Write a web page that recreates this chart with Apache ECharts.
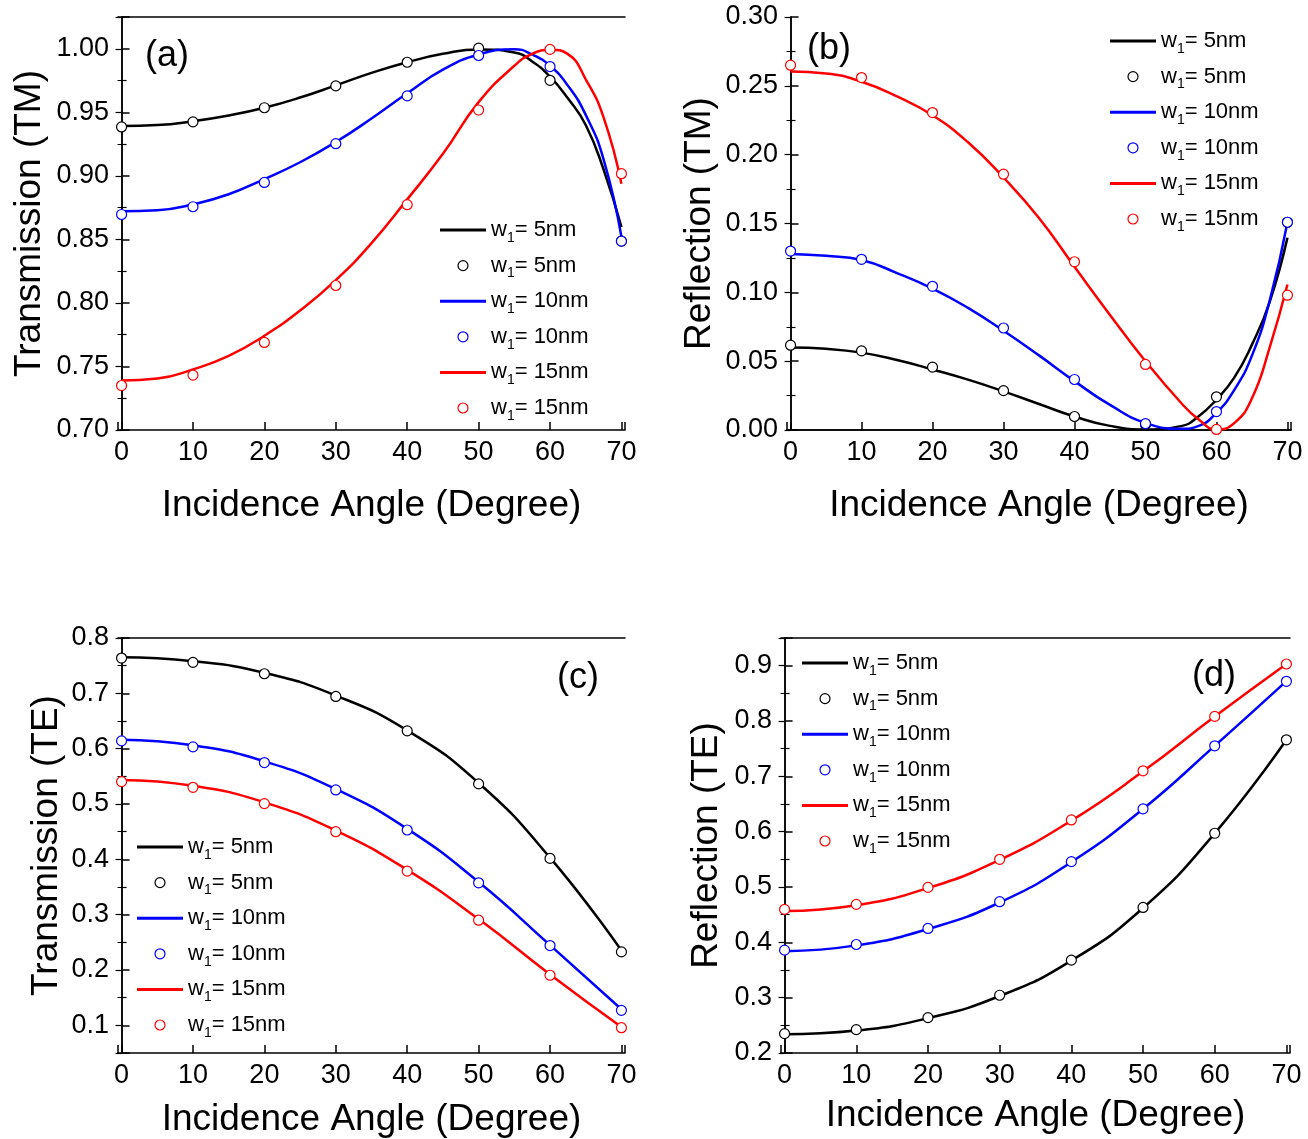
<!DOCTYPE html>
<html>
<head>
<meta charset="utf-8">
<title>Transmission / Reflection vs incidence angle</title>
<script src="https://cdn.jsdelivr.net/npm/echarts@6/dist/echarts.min.js"></script>
<style>
  html, body { margin: 0; padding: 0; background: #fff; }
  #main { width: 1308px; height: 1139px; }
</style>
</head>
<body>
<div id="main"></div>
<script>
// x values: simulated points every 10 degrees, TM curves read every 5 (2.5 near the end)
const angles = [0, 10, 20, 30, 40, 50, 60, 70];
const anglesFine = [0, 5, 10, 15, 20, 25, 30, 35, 40, 45, 50, 55, 57.5, 60, 62.5, 65, 67.5, 70];
const widths = ['5', '10', '15'];
const colors = ['#000000', '#0000ff', '#ff0000'];

// (a) Transmission (TM)
const transTmLine5 = [0.9393, 0.9400, 0.9430, 0.9475, 0.9536, 0.9616, 0.9712, 0.9810, 0.9894, 0.9960, 0.9995, 0.9971, 0.9900, 0.9780, 0.9610, 0.9400, 0.9050, 0.8596];
const transTmLine10 = [0.8722, 0.8730, 0.8776, 0.8855, 0.8975, 0.9107, 0.9266, 0.9451, 0.9650, 0.9836, 0.9955, 0.9997, 0.9955, 0.9866, 0.9710, 0.9480, 0.9130, 0.8520];
const transTmLine15 = [0.7390, 0.7405, 0.7477, 0.7583, 0.7742, 0.7940, 0.8179, 0.8470, 0.8815, 0.9173, 0.9580, 0.9866, 0.9960, 0.9992, 0.9958, 0.9760, 0.9460, 0.8937];
const transTmDots5 = [0.9385, 0.9425, 0.9536, 0.9708, 0.9894, 1.0005, 0.9752, 0.8486];
const transTmDots10 = [0.8696, 0.8757, 0.8948, 0.9253, 0.9629, 0.9947, 0.9860, 0.8486];
const transTmDots15 = [0.7350, 0.7432, 0.7689, 0.8137, 0.8773, 0.9518, 0.9995, 0.9017];

// (b) Reflection (TM)
const reflTmLine5 = [0.0599, 0.0590, 0.0562, 0.0508, 0.0440, 0.0366, 0.0281, 0.0189, 0.0098, 0.0030, 0.0004, 0.0028, 0.0100, 0.0221, 0.0380, 0.0620, 0.0930, 0.1396];
const reflTmLine10 = [0.1279, 0.1265, 0.1235, 0.1140, 0.1027, 0.0887, 0.0721, 0.0542, 0.0355, 0.0182, 0.0052, 0.0009, 0.0030, 0.0125, 0.0290, 0.0540, 0.0940, 0.1509];
const reflTmLine15 = [0.2604, 0.2590, 0.2530, 0.2423, 0.2286, 0.2090, 0.1834, 0.1540, 0.1186, 0.0836, 0.0500, 0.0198, 0.0076, 0.0004, 0.0050, 0.0230, 0.0600, 0.1057];
const reflTmDots5 = [0.0616, 0.0575, 0.0457, 0.0286, 0.0098, 0.0040, 0.0241, 0.1509];
const reflTmDots10 = [0.1300, 0.1240, 0.1044, 0.0741, 0.0367, 0.0047, 0.0134, 0.1509];
const reflTmDots15 = [0.2650, 0.2560, 0.2306, 0.1858, 0.1222, 0.0476, 0.0004, 0.0979];

// (c) Transmission (TE)
const transTeLine5 = [0.7650, 0.7580, 0.7370, 0.6960, 0.6330, 0.5380, 0.4030, 0.2350];
const transTeLine10 = [0.6160, 0.6060, 0.5770, 0.5270, 0.4550, 0.3590, 0.2450, 0.1290];
const transTeLine15 = [0.5435, 0.5330, 0.5030, 0.4520, 0.3810, 0.2920, 0.1920, 0.0970];
const transTeDots5 = [0.7638, 0.7560, 0.7354, 0.6944, 0.6322, 0.5363, 0.4017, 0.2327];
const transTeDots10 = [0.6141, 0.6033, 0.5749, 0.5254, 0.4530, 0.3576, 0.2442, 0.1271];
const transTeDots15 = [0.5405, 0.5302, 0.5007, 0.4500, 0.3788, 0.2900, 0.1905, 0.0957];

// (d) Reflection (TE)
const reflTeLine5 = [0.2338, 0.2405, 0.2630, 0.3030, 0.3670, 0.4620, 0.5970, 0.7660];
const reflTeLine10 = [0.3840, 0.3945, 0.4240, 0.4720, 0.5450, 0.6410, 0.7550, 0.8720];
const reflTeLine15 = [0.4565, 0.4670, 0.4980, 0.5490, 0.6200, 0.7090, 0.8080, 0.9030];
const reflTeDots5 = [0.2350, 0.2422, 0.2640, 0.3044, 0.3678, 0.4631, 0.5971, 0.7660];
const reflTeDots10 = [0.3859, 0.3961, 0.4251, 0.4734, 0.5458, 0.6412, 0.7552, 0.8717];
const reflTeDots15 = [0.4595, 0.4686, 0.4993, 0.5500, 0.6212, 0.7100, 0.8083, 0.9030];

const FONT = '"Liberation Sans", Arial, sans-serif';

const panels = [
  {
    id: 'a', tag: '(a)', yName: 'Transmission (TM)',
    grid: { left: 118, top: 17, width: 507, height: 413 },
    yMin: 0.70, yMax: 1.025, interval: 0.05, digits: 2, yGap: 70, xGap: 57,
    lineX: anglesFine, lines: [transTmLine5, transTmLine10, transTmLine15],
    dots: [transTmDots5, transTmDots10, transTmDots15],
    legendPos: { left: 440, top: 219 }, tagPos: { left: 145, top: 38 }
  },
  {
    id: 'b', tag: '(b)', yName: 'Reflection (TM)',
    grid: { left: 787, top: 17, width: 504, height: 413 },
    yMin: 0, yMax: 0.30, interval: 0.05, digits: 2, yGap: 69, xGap: 57,
    lineX: anglesFine, lines: [reflTmLine5, reflTmLine10, reflTmLine15],
    dots: [reflTmDots5, reflTmDots10, reflTmDots15],
    legendPos: { left: 1110, top: 30 }, tagPos: { left: 807, top: 31 }
  },
  {
    id: 'c', tag: '(c)', yName: 'Transmission (TE)',
    grid: { left: 118, top: 638, width: 507, height: 415 },
    yMin: 0.05, yMax: 0.8, interval: null, digits: 1, yGap: 53, xGap: 48,
    lineX: angles, lines: [transTeLine5, transTeLine10, transTeLine15],
    dots: [transTeDots5, transTeDots10, transTeDots15],
    legendPos: { left: 137, top: 836 }, tagPos: { left: 557, top: 660 }
  },
  {
    id: 'd', tag: '(d)', yName: 'Reflection (TE)',
    grid: { left: 781, top: 638, width: 509, height: 415 },
    yMin: 0.2, yMax: 0.95, interval: 0.1, digits: 1, yGap: 56, xGap: 44,
    lineX: angles, lines: [reflTeLine5, reflTeLine10, reflTeLine15],
    dots: [reflTeDots5, reflTeDots10, reflTeDots15],
    legendPos: { left: 802, top: 652 }, tagPos: { left: 1192, top: 658 }
  }
];

function pairs(xs, ys) {
  return xs.map(function (x, i) { return [x, ys[i]]; });
}

// only label the round values, hide the extent ticks
function tickFormatter(step, digits) {
  return function (v) {
    const k = v / step;
    return Math.abs(k - Math.round(k)) < 1e-6 ? v.toFixed(digits) : '';
  };
}

const blackLine = { lineStyle: { color: '#000', width: 1.5 } };
const xAxes = [];
const yAxes = [];
const series = [];
const legends = [];
const graphics = [];

panels.forEach(function (p, gi) {
  const step = p.digits === 2 ? 0.05 : 0.1;

  // bottom + top x axes
  xAxes.push({
    type: 'value', gridIndex: gi, position: 'bottom',
    min: -0.5, max: 70.5, splitNumber: 7,
    axisLine: blackLine,
    axisTick: { inside: true, length: 8, lineStyle: { color: '#000', width: 1.5 } },
    splitLine: { show: false },
    axisLabel: {
      color: '#000', fontSize: 27, fontFamily: FONT, margin: 9,
      formatter: function (v) { return v % 10 === 0 ? String(v) : ''; }
    },
    name: 'Incidence Angle (Degree)', nameLocation: 'middle', nameGap: p.xGap,
    nameTextStyle: { color: '#000', fontSize: 37, fontFamily: FONT }
  });
  xAxes.push({
    type: 'value', gridIndex: gi, position: 'top',
    min: -0.5, max: 70.5, splitNumber: 7,
    axisLine: blackLine, axisTick: { show: false },
    axisLabel: { show: false }, splitLine: { show: false }
  });

  // left + right y axes
  const yBase = {
    type: 'value', gridIndex: gi, min: p.yMin, max: p.yMax,
    splitLine: { show: false }
  };
  if (p.interval) yBase.interval = p.interval; else yBase.splitNumber = 7;

  yAxes.push(Object.assign({}, yBase, {
    position: 'left',
    axisLine: blackLine,
    axisTick: { inside: true, length: 8, lineStyle: { color: '#000', width: 1.5 } },
    minorTick: { show: true, splitNumber: 2, length: 5, lineStyle: { color: '#000', width: 1.2 } },
    axisLabel: {
      color: '#000', fontSize: 27, fontFamily: FONT, margin: 9,
      formatter: tickFormatter(step, p.digits)
    },
    name: p.yName, nameLocation: 'middle', nameGap: p.yGap,
    nameTextStyle: { color: '#000', fontSize: 37, fontFamily: FONT }
  }));
  yAxes.push(Object.assign({}, yBase, {
    position: 'right',
    axisLine: blackLine,
    axisTick: { inside: true, length: 6, lineStyle: { color: '#000', width: 1.2 } },
    minorTick: { show: true, splitNumber: 2, length: 4, lineStyle: { color: '#000', width: 1 } },
    axisLabel: { show: false }
  }));

  const legendData = [];
  widths.forEach(function (w, k) {
    const lineName = p.id + '-line-' + w;
    const dotName = p.id + '-dot-' + w;
    series.push({
      name: lineName, type: 'line',
      xAxisIndex: gi * 2, yAxisIndex: gi * 2,
      data: pairs(p.lineX, p.lines[k]),
      smooth: true, showSymbol: false, symbol: 'none',
      lineStyle: { color: colors[k], width: 2.5 },
      itemStyle: { color: colors[k] },
      z: 2, animation: false
    });
    legendData.push({ name: lineName, icon: 'path://M0,0H46V3H0Z', itemStyle: { color: colors[k], borderWidth: 0 } });
    legendData.push({ name: dotName, icon: 'circle', itemStyle: { color: '#fff', borderColor: colors[k], borderWidth: 1.2 } });
  });
  widths.forEach(function (w, k) {
    series.push({
      name: p.id + '-dot-' + w, type: 'scatter',
      xAxisIndex: gi * 2, yAxisIndex: gi * 2,
      data: pairs(angles, p.dots[k]),
      symbol: 'circle', symbolSize: 10,
      itemStyle: { color: '#fff', borderColor: colors[k], borderWidth: 1.2, opacity: 1 },
      z: 3, animation: false
    });
  });

  legends.push({
    orient: 'vertical', left: p.legendPos.left, top: p.legendPos.top,
    itemWidth: 46, itemHeight: 10, itemGap: 9.6, padding: 0,
    selectedMode: false,
    data: legendData,
    formatter: function (name) {
      return '{t|w}{s|1}{t|= ' + name.split('-')[2] + 'nm}';
    },
    textStyle: {
      color: '#000', fontFamily: FONT,
      rich: {
        t: { fontSize: 22, lineHeight: 30, fontFamily: FONT, color: '#000' },
        s: { fontSize: 14, lineHeight: 8, verticalAlign: 'bottom', fontFamily: FONT, color: '#000' }
      }
    }
  });

  graphics.push({
    type: 'text', left: p.tagPos.left, top: p.tagPos.top,
    style: { text: p.tag, fill: '#000', font: '36px ' + FONT }
  });
});

const chart = echarts.init(document.getElementById('main'), null, { renderer: 'canvas' });
chart.setOption({
  backgroundColor: '#fff',
  animation: false,
  textStyle: { fontFamily: FONT },
  grid: panels.map(function (p) { return Object.assign({ containLabel: false }, p.grid); }),
  xAxis: xAxes,
  yAxis: yAxes,
  legend: legends,
  graphic: graphics,
  series: series
});
</script>
</body>
</html>
